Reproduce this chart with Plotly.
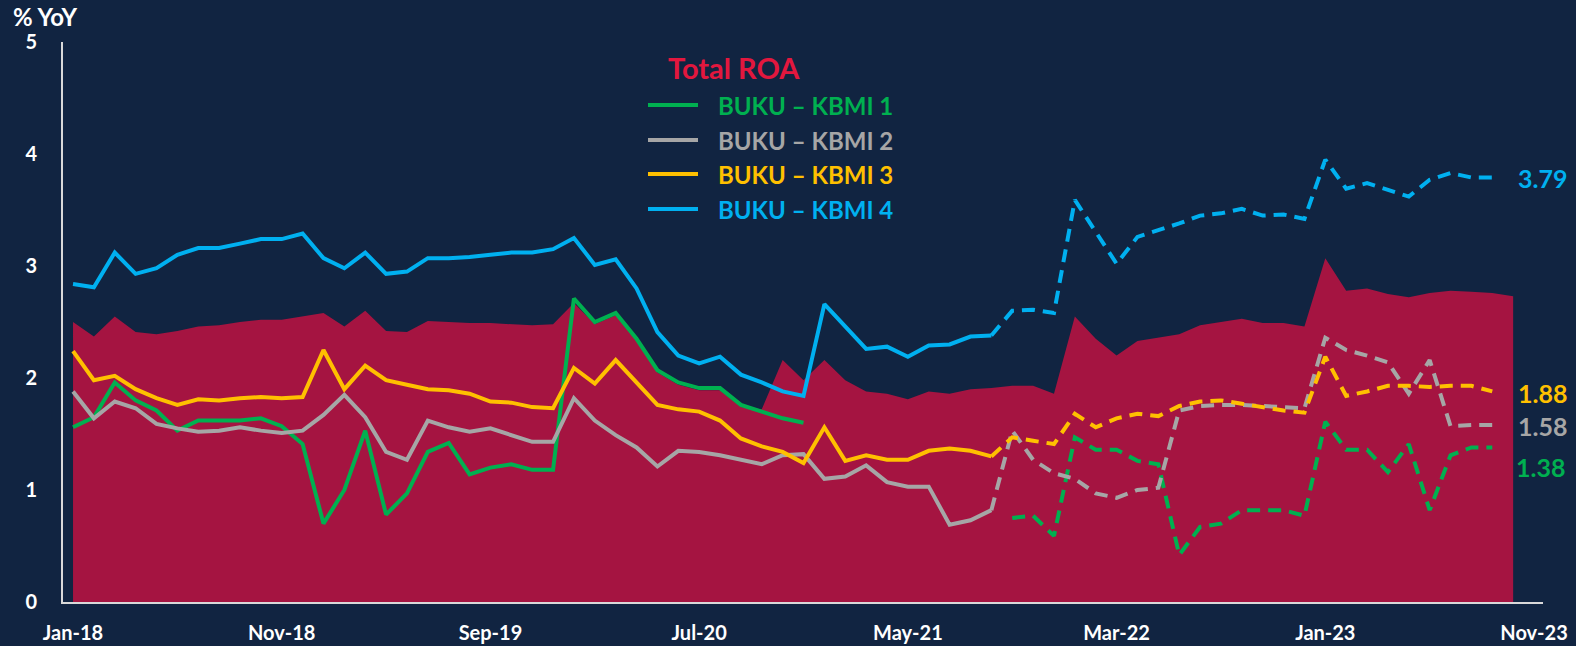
import pandas as pd
import plotly.graph_objects as go

# ---------------- data ----------------
months = list(pd.date_range("2018-01-01", periods=71, freq="MS").strftime("%b-%y"))

total_roa = [2.50, 2.37, 2.55, 2.41, 2.39, 2.42, 2.46, 2.47, 2.50, 2.52, 2.52, 2.55,
             2.58, 2.46, 2.60, 2.42, 2.41, 2.51, 2.50, 2.49, 2.49, 2.48, 2.47, 2.48,
             2.67, 2.48, 2.56, 2.33, 2.05, 1.94, 1.89, 1.89, 1.74, 1.72, 2.16, 1.98,
             2.16, 1.98, 1.88, 1.86, 1.81, 1.88, 1.86, 1.90, 1.91, 1.93, 1.93, 1.86,
             2.55, 2.35, 2.20, 2.33, 2.36, 2.39, 2.47, 2.50, 2.53, 2.49, 2.49, 2.46,
             3.07, 2.78, 2.80, 2.75, 2.72, 2.76, 2.78, 2.77, 2.76, 2.73]

kbmi1 = [1.56, 1.65, 1.96, 1.80, 1.71, 1.53, 1.62, 1.62, 1.62, 1.64, 1.57, 1.41,
         0.70, 1.00, 1.53, 0.78, 0.97, 1.34, 1.42, 1.14, 1.20, 1.23, 1.18, 1.18,
         2.71, 2.50, 2.58, 2.35, 2.07, 1.96, 1.91, 1.91, 1.76, 1.70, 1.64, 1.60,
         None, None, None, None, None, None, None, None, None,
         0.75, 0.77, 0.59, 1.47, 1.36, 1.36, 1.26, 1.23, 0.42, 0.67, 0.70, 0.82,
         0.82, 0.82, 0.77, 1.61, 1.36, 1.36, 1.16, 1.41, 0.82, 1.31, 1.38, 1.38]

kbmi2 = [1.88, 1.64, 1.79, 1.73, 1.59, 1.55, 1.52, 1.53, 1.56, 1.53, 1.51, 1.53,
         1.67, 1.85, 1.65, 1.34, 1.27, 1.62, 1.56, 1.52, 1.55, 1.49, 1.43, 1.43,
         1.82, 1.62, 1.49, 1.38, 1.21, 1.35, 1.34, 1.31, 1.27, 1.23, 1.31, 1.32,
         1.10, 1.12, 1.22, 1.07, 1.03, 1.03, 0.69, 0.73, 0.82,
         1.53, 1.27, 1.15, 1.10, 0.97, 0.93, 1.00, 1.02,
         1.71, 1.75, 1.76, 1.76, 1.75, 1.74, 1.73,
         2.36, 2.25, 2.20, 2.14, 1.86, 2.16, 1.57, 1.58, 1.58]

kbmi3 = [2.24, 1.98, 2.02, 1.90, 1.82, 1.76, 1.81, 1.80, 1.82, 1.83, 1.82, 1.83,
         2.25, 1.90, 2.11, 1.98, 1.94, 1.90, 1.89, 1.86, 1.79, 1.78, 1.74, 1.73,
         2.09, 1.95, 2.16, 1.96, 1.76, 1.72, 1.70, 1.62, 1.46, 1.39, 1.34, 1.24,
         1.56, 1.26, 1.31, 1.27, 1.27, 1.35, 1.37, 1.35, 1.30,
         1.47, 1.44, 1.41, 1.68, 1.56, 1.64, 1.68, 1.66, 1.75, 1.79, 1.80, 1.77,
         1.74, 1.71, 1.69, 2.19, 1.84, 1.88, 1.93, 1.93, 1.92, 1.93, 1.93, 1.88]

kbmi4 = [2.84, 2.81, 3.12, 2.93, 2.98, 3.10, 3.16, 3.16, 3.20, 3.24, 3.24, 3.29,
         3.07, 2.98, 3.12, 2.93, 2.95, 3.07, 3.07, 3.08, 3.10, 3.12, 3.12, 3.15,
         3.25, 3.01, 3.06, 2.80, 2.41, 2.20, 2.13, 2.19, 2.03, 1.96, 1.88, 1.84,
         2.66, 2.46, 2.26, 2.28, 2.19, 2.29, 2.30, 2.37, 2.38,
         2.60, 2.61, 2.58, 3.59, 3.30, 3.02, 3.26, 3.32, 3.38, 3.45, 3.47, 3.51,
         3.45, 3.46, 3.42, 3.95, 3.69, 3.74, 3.68, 3.62, 3.77, 3.83, 3.79, 3.79]

series_names = ["BUKU \u2013 KBMI 1", "BUKU \u2013 KBMI 2", "BUKU \u2013 KBMI 3", "BUKU \u2013 KBMI 4"]
x_ticks = months[::10]

# ---------------- style ----------------
BG = "#112441"
AREA = "#a51441"
TITLE_RED = "#e3173e"
COLORS = ["#00b050", "#a6a6a6", "#ffc000", "#00b0f0"]
FONT = "Lato"
SPLIT = 44  # last solid month index (BUKU) / first dashed (KBMI)

W, H = 1576, 646
ML, MR, MT, MB = 63, 33, 42, 44
PW, PH = W - ML - MR, H - MT - MB


def px_x(p):
    return (p - ML) / PW


def px_y(p):
    return (H - MB - p) / PH


fig = go.Figure()

fig.add_trace(go.Scatter(x=months[:len(total_roa)], y=total_roa, mode="lines",
                         fill="tozeroy", fillcolor=AREA, line=dict(width=0, color=AREA),
                         showlegend=False, hoverinfo="skip"))

all_series = [kbmi1, kbmi2, kbmi3, kbmi4]
for vals, col, name in zip(all_series, COLORS, series_names):
    n = len(vals)
    fig.add_trace(go.Scatter(x=months[:SPLIT + 1], y=vals[:SPLIT + 1], mode="lines",
                             line=dict(color=col, width=4), name=name,
                             connectgaps=False, showlegend=False))
    fig.add_trace(go.Scatter(x=months[SPLIT:n], y=vals[SPLIT:n], mode="lines",
                             line=dict(color=col, width=4, dash="13px,8px"), name=name,
                             connectgaps=False, showlegend=False))

# end-value labels
end_shifts = [(22, -20), (24, -1), (24, -2), (24, 0)]
for vals, col, (xs, ys) in zip(all_series, COLORS, end_shifts):
    last_i = len(vals) - 1
    fig.add_annotation(x=months[last_i], y=vals[last_i], text=f"{vals[last_i]:.2f}",
                       xanchor="left", yanchor="middle", xshift=xs, yshift=ys,
                       showarrow=False,
                       font=dict(family=FONT, size=25, color=col, weight="bold"))

# custom legend
fig.add_annotation(xref="paper", yref="paper", x=px_x(666), y=px_y(68), text="Total ROA",
                   xanchor="left", yanchor="middle", showarrow=False,
                   font=dict(family=FONT, size=29, color=TITLE_RED, weight="bold"))
legend_y = [105, 140, 174, 209]
for name, col, ly in zip(series_names, COLORS, legend_y):
    fig.add_shape(type="line", xref="paper", yref="paper", x0=px_x(648), x1=px_x(698),
                  y0=px_y(ly), y1=px_y(ly), line=dict(color=col, width=4))
    fig.add_annotation(xref="paper", yref="paper", x=px_x(716), y=px_y(ly), text=name,
                       xanchor="left", yanchor="middle", showarrow=False,
                       font=dict(family=FONT, size=24, color=col, weight="bold"))

fig.add_annotation(xref="paper", yref="paper", x=px_x(11), y=px_y(17), text="% YoY",
                   xanchor="left", yanchor="middle", showarrow=False,
                   font=dict(family=FONT, size=24, color="white", weight="bold"))

fig.update_layout(
    width=W, height=H,
    margin=dict(l=ML, r=MR, t=MT, b=MB, autoexpand=False),
    paper_bgcolor=BG, plot_bgcolor=BG,
    showlegend=False,
    xaxis=dict(type="category", categoryorder="array", categoryarray=months,
               range=[-0.48, 70.43], tickmode="array", tickvals=x_ticks, ticktext=x_ticks,
               automargin=False,
               showgrid=False, zeroline=False, showline=True, linecolor="#d9d9d9",
               linewidth=2, ticks="outside", ticklen=12, tickcolor="rgba(0,0,0,0)",
               tickfont=dict(family=FONT, size=20, color="white", weight="bold")),
    yaxis=dict(range=[0, 5], dtick=1, showgrid=False, zeroline=False, showline=True,
               automargin=False,
               linecolor="#d9d9d9", linewidth=2, ticks="outside", ticklen=20,
               tickcolor="rgba(0,0,0,0)",
               tickfont=dict(family=FONT, size=20, color="white", weight="bold")),
)

fig.write_html("out.html", config={"displayModeBar": False},
               post_script="document.body.style.margin='0';document.body.style.overflow='hidden';")
